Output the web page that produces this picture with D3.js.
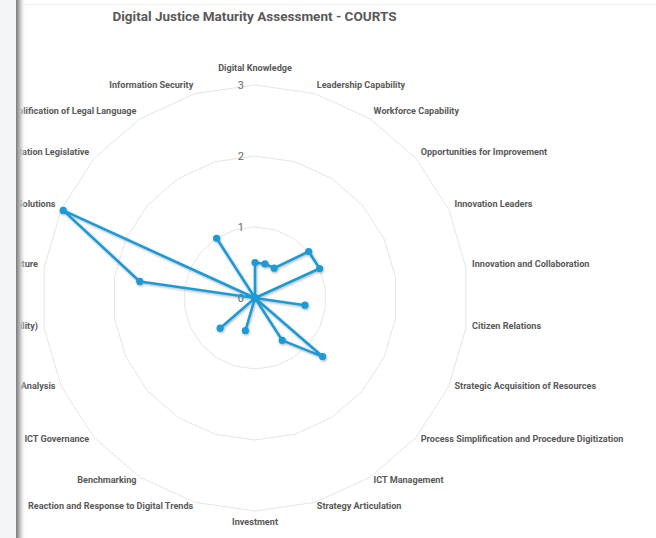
<!DOCTYPE html>
<html><head><meta charset="utf-8">
<script src="https://cdn.jsdelivr.net/npm/d3@7"></script>
<style>body{margin:0;background:#fff}svg{display:block}</style>
</head><body>
<svg id="c" width="656" height="538"></svg>
<script>
const title = "Digital Justice Maturity Assessment - COURTS";
const categories = [
  "Digital Knowledge","Leadership Capability","Workforce Capability","Opportunities for Improvement",
  "Innovation Leaders","Innovation and Collaboration","Citizen Relations","Strategic Acquisition of Resources",
  "Process Simplification and Procedure Digitization","ICT Management","Strategy Articulation","Investment",
  "Reaction and Response to Digital Trends","Benchmarking","ICT Governance","Data Collection and Analysis",
  "Digital Systems (Interoperability)","ICT Infrastructure","Technological Solutions","Adaptation Legislative",
  "Simplification of Legal Language","Information Security"
];
const values = [0.5,0.5,0.5,1.0,1.0,0,0.71,0,1.26,0.71,0,0,0.48,0,0.65,0,0,1.64,2.97,0,1.0,0];
const ticks = [0,1,2,3];

const W=656,H=538,cx=255,cy=298,R=213;
const blue="#1f9ad6", grid="#dedede", txt="#595959";
const svg=d3.select("#c");
const defs=svg.append("defs");
const f=defs.append("filter").attr("id","sh").attr("x","-20%").attr("y","-20%").attr("width","140%").attr("height","140%");
f.append("feDropShadow").attr("dx",0.8).attr("dy",1.2).attr("stdDeviation",0.9).attr("flood-color","#000").attr("flood-opacity",0.3);
const lg=defs.append("linearGradient").attr("id","edge").attr("x1",0).attr("x2",1).attr("y1",0).attr("y2",0);
lg.append("stop").attr("offset",0).attr("stop-color","#7a7a7a");
lg.append("stop").attr("offset",0.35).attr("stop-color","#b5b5b5");
lg.append("stop").attr("offset",1).attr("stop-color","#ffffff").attr("stop-opacity",0);

svg.append("rect").attr("width",W).attr("height",H).attr("fill","#fff");
svg.append("line").attr("x1",16).attr("x2",W).attr("y1",4.5).attr("y2",4.5).attr("stroke","#efefef");

const n=categories.length;
const ang=d3.scaleLinear().domain([0,n]).range([0,2*Math.PI]);
const r=d3.scaleLinear().domain([0,3]).range([0,R]);
const g=svg.append("g").attr("transform",`translate(${cx},${cy})`);

// grid rings
ticks.filter(t=>t>0).forEach(t=>{
  g.append("path").attr("d",d3.lineRadial().angle((d,i)=>ang(i)).radius(()=>r(t)).curve(d3.curveLinearClosed)(categories))
   .attr("fill","none").attr("stroke",grid).attr("stroke-width",0.8);
});
// tick labels
g.selectAll(".tk").data(ticks).join("text").attr("x",-11).attr("y",d=>-r(d)).attr("dy","0.35em")
  .attr("text-anchor","end").attr("font-family","Roboto, sans-serif").attr("font-size",11).attr("fill","#6a6a6a").text(d=>d);

// series
const line=d3.lineRadial().angle((d,i)=>ang(i)).radius(d=>r(d)).curve(d3.curveLinearClosed);
const sg=g.append("g").attr("filter","url(#sh)");
sg.append("path").attr("d",line(values)).attr("fill","none").attr("stroke",blue).attr("stroke-width",2.6).attr("stroke-linejoin","round");
sg.selectAll("circle").data(values).join("circle")
  .attr("cx",(d,i)=>r(d)*Math.sin(ang(i))).attr("cy",(d,i)=>-r(d)*Math.cos(ang(i))).attr("r",3.6).attr("fill",blue);

// category labels
const pad=6.3;
categories.forEach((c,i)=>{
  const a=ang(i), sx=Math.sin(a), sy=-Math.cos(a);
  let x=(R+pad)*sx, y=(R+pad)*sy-3, anchor="middle";
  if(sx>0.05) anchor="start"; else if(sx<-0.05) anchor="end"; else y+=sy*8;
  const t=g.append("text").attr("x",x).attr("y",y).attr("dy","0.35em").attr("text-anchor",anchor)
    .attr("font-family","Roboto, sans-serif").attr("font-weight","bold").attr("font-size",9).attr("fill",txt).text(c);
  const L=t.node().getComputedTextLength();
  t.attr("textLength",L*1.01).attr("lengthAdjust","spacingAndGlyphs");
});

// title
const tt=svg.append("text").attr("x",254.5).attr("y",21).attr("text-anchor","middle").attr("font-family","Roboto, sans-serif")
  .attr("font-weight","bold").attr("font-size",12.6).attr("fill",txt).text(title);
tt.attr("textLength",284).attr("lengthAdjust","spacingAndGlyphs");

// left window edge
svg.append("rect").attr("x",0).attr("y",0).attr("width",16).attr("height",H).attr("fill","#f2f6f9");
svg.append("rect").attr("x",16).attr("y",0).attr("width",10).attr("height",H).attr("fill","url(#edge)");
</script>
</body></html>
